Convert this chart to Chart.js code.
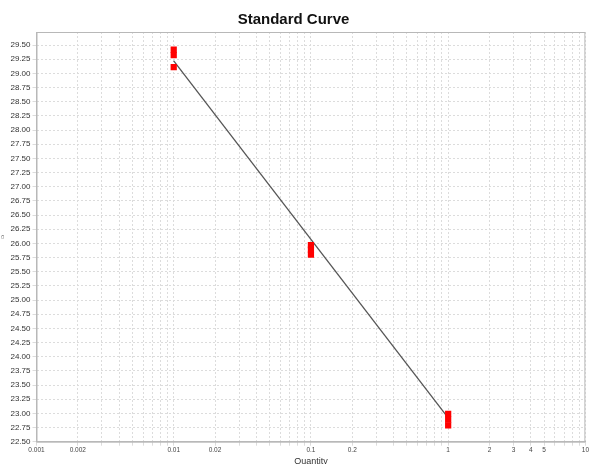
<!DOCTYPE html>
<html>
<head>
<meta charset="utf-8">
<script src="https://cdn.jsdelivr.net/npm/chart.js@4"></script>
<style>
html,body{margin:0;padding:0;background:#fff;}
#c{display:block;}
</style>
</head>
<body>
<canvas id="c" width="590" height="464"></canvas>
<script>
// Standards (quantity, Ct)
const stdQuantity = [0.01, 0.01, 0.01, 0.1, 0.1, 0.1, 1, 1, 1];
const stdCt       = [29.42, 29.32, 29.11, 25.97, 25.89, 25.80, 22.99, 22.89, 22.79];
// Fitted standard curve end points
const fitQuantity = [0.01, 1];
const fitCt       = [29.22, 22.92];
// Axis ticks
const yTicks = [22.50,22.75,23.00,23.25,23.50,23.75,24.00,24.25,24.50,24.75,25.00,25.25,25.50,25.75,26.00,26.25,26.50,26.75,27.00,27.25,27.50,27.75,28.00,28.25,28.50,28.75,29.00,29.25,29.50];
const xGrid = [0.001,0.002,0.003,0.004,0.005,0.006,0.007,0.008,0.009,
               0.01,0.02,0.03,0.04,0.05,0.06,0.07,0.08,0.09,
               0.1,0.2,0.3,0.4,0.5,0.6,0.7,0.8,0.9,
               1,2,3,4,5,6,7,8,9,10];
const xTickLabels = ['0.001','0.002','0.01','0.02','0.1','0.2','1','2','3','4','5','10'];

const frame = {
  id: 'frame',
  afterDraw(chart) {
    const a = chart.chartArea, ctx = chart.ctx;
    ctx.save();
    ctx.strokeStyle = '#b8b8b8';
    ctx.lineWidth = 1;
    ctx.strokeRect(a.left + 0.5, a.top + 0.5, a.right - a.left - 1, a.bottom - a.top);
    ctx.restore();
  }
};

new Chart(document.getElementById('c'), {
  type: 'scatter',
  data: {
    datasets: [
      {
        type: 'line',
        data: fitQuantity.map((q, i) => ({x: q, y: fitCt[i]})),
        borderColor: '#555555',
        borderWidth: 1.3,
        pointRadius: 0,
        fill: false,
        order: 2
      },
      {
        data: stdQuantity.map((q, i) => ({x: q, y: stdCt[i]})),
        pointStyle: 'rect',
        pointRadius: 4.4,
        backgroundColor: '#ff0000',
        borderColor: '#ff0000',
        borderWidth: 0,
        order: 1
      }
    ]
  },
  options: {
    responsive: false,
    animation: false,
    devicePixelRatio: 1,
    layout: {padding: {left: 0, right: 3, top: 0, bottom: 0}},
    plugins: {
      legend: {display: false},
      tooltip: {enabled: false},
      title: {
        display: true,
        text: 'Standard Curve',
        color: '#111',
        font: {family: 'Liberation Sans, Arial, sans-serif', size: 15, weight: 'bold'},
        padding: {top: 11, bottom: 3}
      }
    },
    scales: {
      x: {
        type: 'logarithmic',
        min: 0.001,
        max: 10,
        afterBuildTicks(scale) { scale.ticks = xGrid.map(v => ({value: v})); },
        afterFit(scale) { scale.height = 22.3; },
        ticks: {
          autoSkip: false,
          maxRotation: 0,
          padding: 1,
          color: '#444',
          font: {family: 'Liberation Sans, Arial, sans-serif', size: 6.5},
          callback(value) {
            const s = String(+value.toPrecision(6));
            return xTickLabels.includes(s) ? s : '';
          }
        },
        grid: {color: '#dcdcdc', tickLength: 4, lineWidth: 1},
        border: {color: '#b8b8b8', dash: [2, 2]},
        title: {
          display: true,
          text: 'Quantity',
          color: '#333',
          font: {family: 'Liberation Sans, Arial, sans-serif', size: 9},
          padding: {top: 0, bottom: -3}
        }
      },
      y: {
        type: 'linear',
        min: 22.5,
        max: 29.73,
        afterBuildTicks(scale) { scale.ticks = yTicks.map(v => ({value: v})); },
        afterFit(scale) { scale.width = 36.5; },
        ticks: {
          autoSkip: false,
          padding: 2,
          color: '#333',
          font: {family: 'Liberation Sans, Arial, sans-serif', size: 8},
          callback(value) { return Number(value).toFixed(2); }
        },
        grid: {color: '#dcdcdc', tickLength: 4, lineWidth: 1},
        border: {color: '#b8b8b8', dash: [2, 2]},
        title: {
          display: true,
          text: 'Ct',
          color: '#555',
          font: {family: 'Liberation Sans, Arial, sans-serif', size: 4},
          padding: {top: 0, bottom: 0}
        }
      }
    }
  },
  plugins: [frame]
});
</script>
</body>
</html>
